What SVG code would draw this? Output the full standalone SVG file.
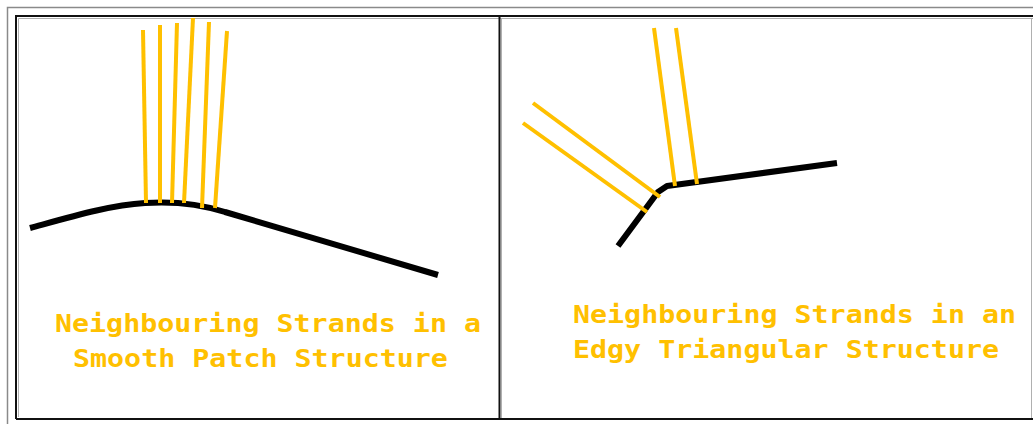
<svg xmlns="http://www.w3.org/2000/svg" width="1033" height="424" viewBox="0 0 1033 424">
  <style>
    .frame-outer { fill: none; stroke: #8a8a8a; stroke-width: 1.5; }
    .frame { fill: none; stroke: #111; stroke-width: 2; }
    .frame-shade { fill: none; stroke: #b0b0b0; stroke-width: 1; }
    .surface { fill: none; stroke: #000; stroke-width: 6; stroke-linejoin: round; stroke-linecap: butt; }
    .strand { fill: none; stroke: #FFC000; stroke-width: 4; stroke-linecap: butt; stroke-linejoin: round; }
    .caption { font-family: "DejaVu Sans Mono", "Liberation Mono", monospace; font-weight: bold; font-size: 24px; fill: #FFC000; }
  </style>
  <rect width="1033" height="424" fill="#fff"/>

  <!-- frames -->
  <g id="frame">
    <path class="frame-outer" d="M7.5,424 V7.5 H1033"/>
    <path class="frame" d="M16,419 V16 H1033"/>
    <path class="frame" d="M16,419 H1033"/>
    <path class="frame-shade" d="M18.5,417 V18.5 H1033"/>
    <path class="frame-shade" d="M1031.5,18 V418"/>
    <path class="frame" d="M499.5,16 V419"/>
    <path class="frame-shade" d="M501.5,18 V418"/>
  </g>

  <!-- left panel: strands on a smooth patch -->
  <g id="smooth-patch">
    <path class="surface" d="M30,228 C70,217 110,205 145,203 C175,201 200,204 225,212 L438,275"/>
    <g id="smooth-strands">
      <path class="strand" d="M143,30 L146,203"/>
      <path class="strand" d="M160,25 V203"/>
      <path class="strand" d="M177,23 L172,203"/>
      <path class="strand" d="M193,18 L184,203"/>
      <path class="strand" d="M209,22 L202,208"/>
      <path class="strand" d="M227,31 L215,208"/>
    </g>
    <!-- captions are widened horizontally for a broad monospace look -->
    <text class="caption" transform="translate(55,332) scale(1.18,1)">Neighbouring Strands in a</text>
    <text class="caption" transform="translate(73,367) scale(1.18,1)">Smooth Patch Structure</text>
  </g>

  <!-- right panel: strands on an edgy triangular surface -->
  <g id="edgy-structure">
    <path class="surface" d="M618,246 L658,192 L667,186 L837,163"/>
    <g id="edgy-strands">
      <path class="strand" d="M654,28 L675,186"/>
      <path class="strand" d="M676,28 L697,184"/>
      <path class="strand" d="M533,103 L660,197"/>
      <path class="strand" d="M523,123 L647,212"/>
    </g>
    <text class="caption" transform="translate(573,323) scale(1.18,1)">Neighbouring Strands in an</text>
    <text class="caption" transform="translate(573,358) scale(1.18,1)">Edgy Triangular Structure</text>
  </g>
</svg>
